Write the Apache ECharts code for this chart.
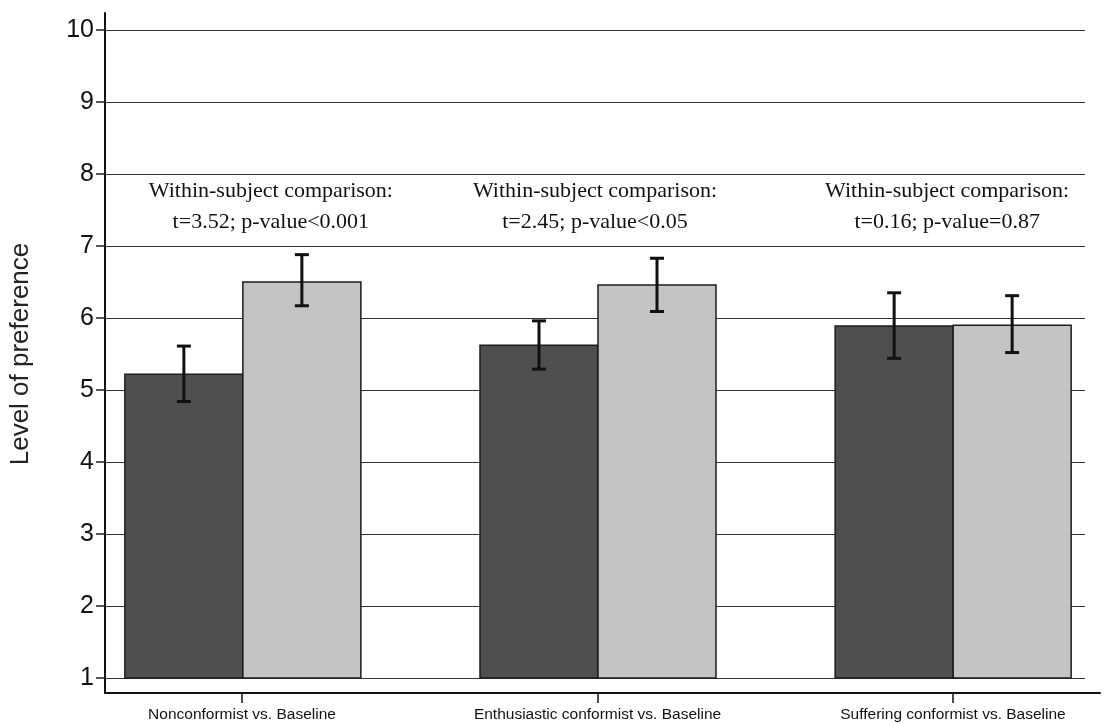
<!DOCTYPE html>
<html>
<head>
<meta charset="utf-8">
<script src="https://cdn.jsdelivr.net/npm/echarts@6/dist/echarts.min.js"></script>
<style>
  html, body { margin: 0; padding: 0; background: #fff; }
  #chart { width: 1105px; height: 725px; }
</style>
</head>
<body>
<div id="chart"></div>
<script>
// data
const groups = ['Nonconformist vs. Baseline', 'Enthusiastic conformist vs. Baseline', 'Suffering conformist vs. Baseline']
const yTicks = [1, 2, 3, 4, 5, 6, 7, 8, 9, 10]
const conditionMeans = [5.22, 5.62, 5.89]
const conditionLow = [4.84, 5.29, 5.44]
const conditionHigh = [5.61, 5.96, 6.35]
const baselineMeans = [6.50, 6.46, 5.90]
const baselineLow = [6.17, 6.09, 5.52]
const baselineHigh = [6.88, 6.83, 6.31]
const noteTitle = 'Within-subject comparison:'
const noteStats = ['t=3.52; p-value<0.001', 't=2.45; p-value<0.05', 't=0.16; p-value=0.87']

const myChart = echarts.init(document.getElementById('chart'))

const barW = 118          // px width of one bar
const noteShift = [28, -3, -6]  // px nudge of the notes
const noteLevel = 7.545   // where the two note lines sit

// bars start from 1, not from 0, so draw them as custom rects
function barRender (side, fill) {
  return function (params, api) {
    const i = api.value(0)
    const base = api.coord([i, 1])
    const top = api.coord([i, api.value(1)])
    const x = side === 'left' ? base[0] - barW : base[0]
    return {
      type: 'rect',
      shape: { x: x, y: top[1], width: barW, height: base[1] - top[1] },
      style: { fill: fill, stroke: '#1c1c1c', lineWidth: 1.5 }
    }
  }
}

function errRender (side) {
  return function (params, api) {
    const i = api.value(0)
    const lo = api.coord([i, api.value(1)])
    const hi = api.coord([i, api.value(2)])
    const cx = lo[0] + (side === 'left' ? -barW / 2 : barW / 2)
    const cap = 7
    const st = { stroke: '#111', lineWidth: 3 }
    return {
      type: 'group',
      children: [
        { type: 'line', shape: { x1: cx, y1: lo[1], x2: cx, y2: hi[1] }, style: st },
        { type: 'line', shape: { x1: cx - cap, y1: lo[1], x2: cx + cap, y2: lo[1] }, style: st },
        { type: 'line', shape: { x1: cx - cap, y1: hi[1], x2: cx + cap, y2: hi[1] }, style: st }
      ]
    }
  }
}

const option = {
  backgroundColor: '#fff',
  animation: false,
  grid: [
    // plot area: value 1..10
    { left: 105, right: 20, top: 30, bottom: 47 },
    // outer frame carrying the axis lines
    { left: 105, right: 5, top: 13, bottom: 32 }
  ],
  xAxis: [
    {
      gridIndex: 0, type: 'value', min: 0.6146, max: 3.3713,
      show: false
    },
    {
      gridIndex: 1, type: 'value', min: 0.6146, max: 3.4135,
      axisLine: { show: true, lineStyle: { color: '#111', width: 2 } },
      axisTick: { show: true, length: 10, customValues: [1, 2, 3], lineStyle: { color: '#111', width: 1.5 } },
      axisLabel: {
        customValues: [1, 2, 3],
        margin: 14,
        fontFamily: 'Liberation Sans',
        fontSize: 15.5,
        color: '#111',
        formatter: function (v) { return groups[Math.round(v) - 1] }
      },
      splitLine: { show: false }
    }
  ],
  yAxis: [
    {
      gridIndex: 0, type: 'value', min: yTicks[0], max: yTicks[yTicks.length - 1], interval: 1,
      name: 'Level of preference',
      nameLocation: 'middle',
      nameGap: 72,
      nameTextStyle: { fontFamily: 'Liberation Sans', fontSize: 26, color: '#222' },
      axisLine: { show: false },
      axisTick: { show: true, length: 10, lineStyle: { color: '#222', width: 1.5 } },
      axisLabel: { margin: 12, fontFamily: 'Liberation Sans', fontSize: 25, color: '#111' },
      splitLine: { show: true, lineStyle: { color: '#333', width: 1.2 } }
    },
    {
      gridIndex: 1, type: 'value', min: 0, max: 1,
      axisLine: { show: true, lineStyle: { color: '#111', width: 2 } },
      axisTick: { show: false },
      axisLabel: { show: false },
      splitLine: { show: false }
    }
  ],
  series: [
    {
      type: 'custom', name: 'condition', xAxisIndex: 0, yAxisIndex: 0,
      renderItem: barRender('left', '#4f4f4f'),
      data: conditionMeans.map((v, i) => [i + 1, v]),
      z: 3
    },
    {
      type: 'custom', name: 'baseline', xAxisIndex: 0, yAxisIndex: 0,
      renderItem: barRender('right', '#c4c4c4'),
      data: baselineMeans.map((v, i) => [i + 1, v]),
      z: 3
    },
    {
      type: 'custom', xAxisIndex: 0, yAxisIndex: 0,
      renderItem: errRender('left'),
      data: conditionLow.map((v, i) => [i + 1, v, conditionHigh[i]]),
      z: 4
    },
    {
      type: 'custom', xAxisIndex: 0, yAxisIndex: 0,
      renderItem: errRender('right'),
      data: baselineLow.map((v, i) => [i + 1, v, baselineHigh[i]]),
      z: 4
    },
    {
      // the t-test notes above each pair
      type: 'custom', xAxisIndex: 0, yAxisIndex: 0,
      renderItem: function (params, api) {
        const i = api.value(0)
        const p = api.coord([i, noteLevel])
        return {
          type: 'text',
          x: p[0] + noteShift[i - 1],
          y: p[1],
          style: {
            text: noteTitle + '\n' + noteStats[i - 1],
            fontFamily: 'Liberation Serif',
            fontSize: 22,
            lineHeight: 31,
            fill: '#111',
            align: 'center',
            verticalAlign: 'middle'
          }
        }
      },
      data: noteStats.map((s, i) => [i + 1]),
      z: 5
    }
  ]
}

option && myChart.setOption(option)
</script>
</body>
</html>
